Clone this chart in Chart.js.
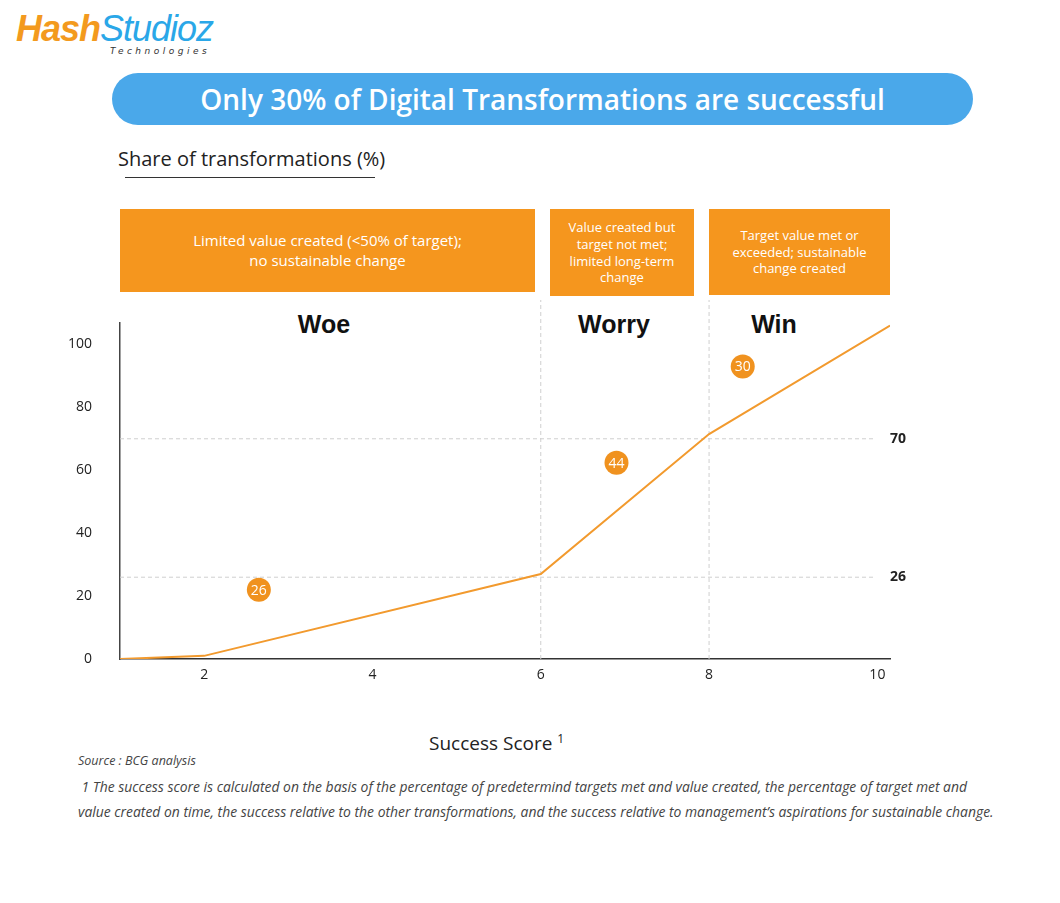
<!DOCTYPE html>
<html><head><meta charset="utf-8">
<script src="https://cdn.jsdelivr.net/npm/chart.js@4"></script>
<style>
body{margin:0;width:1060px;height:903px;background:#fff;font-family:'Open Sans',sans-serif;position:relative;overflow:hidden}
.abs{position:absolute}
.box{position:absolute;background:#f5961e;color:#fff;display:flex;align-items:center;justify-content:center;text-align:center;line-height:1.3}
.zone{position:absolute;font:bold 25px 'Liberation Sans',Arial,sans-serif;color:#111;transform:translateX(-50%)}
.note{position:absolute;left:78px;font:italic 13.9px 'Open Sans',sans-serif;color:#444}
</style></head><body>
<div class="abs" style="left:16px;top:8px;font:italic bold 36px 'Liberation Sans',sans-serif;letter-spacing:-1px"><span style="color:#f39a1e">Hash</span><span style="color:#2aa7e8;font-weight:normal">Studioz</span></div>
<div class="abs" style="left:110px;top:46px;font:italic 9px 'DejaVu Sans',sans-serif;letter-spacing:3.5px;color:#333">Technologies</div>
<div class="abs" style="left:112px;top:73px;width:861px;height:52px;border-radius:26px;background:#4aa8ea;color:#fff;font:600 28px 'Open Sans',sans-serif;display:flex;align-items:center;justify-content:center">Only 30% of Digital Transformations are successful</div>
<div class="abs" style="left:118px;top:145px;font:20px 'Open Sans',sans-serif;color:#222">Share of transformations (%)</div>
<div class="abs" style="left:125px;top:177px;width:250px;height:1px;background:#333"></div>
<div class="box" style="left:120px;top:209px;width:415px;height:83px;font-size:15px">Limited value created (&lt;50% of target);<br>no sustainable change</div>
<div class="box" style="left:550px;top:209px;width:144px;height:87px;font-size:13px">Value created but<br>target not met;<br>limited long-term<br>change</div>
<div class="box" style="left:709px;top:209px;width:181px;height:86px;font-size:13px">Target value met or<br>exceeded; sustainable<br>change created</div>
<div class="zone" style="left:324px;top:310px">Woe</div>
<div class="zone" style="left:614px;top:310px">Worry</div>
<div class="zone" style="left:774px;top:310px">Win</div>
<div style="position:absolute;left:0;top:286px;width:1060px;height:434px"><canvas id="c"></canvas></div>
<div class="abs" style="left:429px;top:730px;font:19px 'Open Sans',sans-serif;color:#222">Success Score <sup style="font-size:12px">1</sup></div>
<div class="note" style="top:752px;font-size:12.5px">Source : BCG analysis</div>
<div class="note" style="top:777px">&nbsp;1 The success score is calculated on the basis of the percentage of predetermind targets met and value created, the percentage of target met and</div>
<div class="note" style="top:802px">value created on time, the success relative to the other transformations, and the success relative to management’s aspirations for sustainable change.</div>
<script>
// success score vs cumulative share of transformations
const scoreX = [1, 2, 6, 8, 10.15];
const shareY = [0, 1, 27, 71.5, 106];
const refLevels = [26, 70];
const zoneEdges = [6, 8];
const badgeX = [2.65, 6.9, 8.4];
const badgeY = [22, 62.4, 93];
const badgeText = ['26', '44', '30'];
const xTicks = [2, 4, 6, 8, 10];

const ORANGE = '#f29a2e';

const guides = {
  id: 'guides',
  beforeDatasetsDraw(chart) {
    const {ctx, scales: {x, y}} = chart;
    ctx.save();
    ctx.strokeStyle = '#cfcfcf';
    ctx.lineWidth = 1;
    ctx.setLineDash([4, 3]);
    refLevels.forEach(v => {
      ctx.beginPath(); ctx.moveTo(x.getPixelForValue(1), y.getPixelForValue(v));
      ctx.lineTo(x.getPixelForValue(9.95), y.getPixelForValue(v)); ctx.stroke();
    });
    zoneEdges.forEach(v => {
      ctx.beginPath(); ctx.moveTo(x.getPixelForValue(v), y.getPixelForValue(0));
      ctx.lineTo(x.getPixelForValue(v), 14); ctx.stroke();
    });
    ctx.setLineDash([]);
    ctx.fillStyle = '#222';
    ctx.font = 'bold 14px "Open Sans"';
    ctx.textBaseline = 'middle';
    refLevels.forEach(v => ctx.fillText(String(v), x.getPixelForValue(10.15), y.getPixelForValue(v)));
    ctx.restore();
  },
  afterDatasetsDraw(chart) {
    const {ctx, scales: {x, y}} = chart;
    ctx.save();
    badgeX.forEach((bx, i) => {
      const px = x.getPixelForValue(bx), py = y.getPixelForValue(badgeY[i]);
      ctx.fillStyle = '#f0921f';
      ctx.beginPath(); ctx.arc(px, py, 12, 0, Math.PI * 2); ctx.fill();
      ctx.fillStyle = '#fff'; ctx.font = '14px "Open Sans"';
      ctx.textAlign = 'center'; ctx.textBaseline = 'middle';
      ctx.fillText(badgeText[i], px, py + 1);
    });
    ctx.restore();
  }
};

new Chart(document.getElementById('c'), {
  type: 'line',
  data: { datasets: [{ data: scoreX.map((v, i) => ({x: v, y: shareY[i]})), borderColor: ORANGE, borderWidth: 2, pointRadius: 0, tension: 0 }] },
  options: {
    responsive: true, maintainAspectRatio: false, animation: false,
    layout: { padding: { top: 12, right: 170, left: 0, bottom: 0 } },
    plugins: { legend: { display: false }, tooltip: { enabled: false } },
    scales: {
      x: {
        type: 'linear', min: 1, max: 10.15,
        afterFit: s => { s.height = 61; },
        afterBuildTicks: s => { s.ticks = xTicks.map(v => ({value: v})); },
        grid: { display: false, drawTicks: false },
        border: { color: '#333', width: 1.5 },
        ticks: { color: '#222', font: { size: 14, family: 'Open Sans' }, padding: 8 }
      },
      y: {
        min: 0, max: 107,
        afterFit: s => { s.width = 120; },
        afterBuildTicks: s => { s.ticks = [0, 20, 40, 60, 80, 100].map(v => ({value: v})); },
        grid: { display: false, drawTicks: false },
        border: { color: '#444', width: 1.5 },
        ticks: { color: '#222', font: { size: 14, family: 'Open Sans' }, padding: 28 }
      }
    }
  },
  plugins: [guides]
});
</script>
</body></html>
